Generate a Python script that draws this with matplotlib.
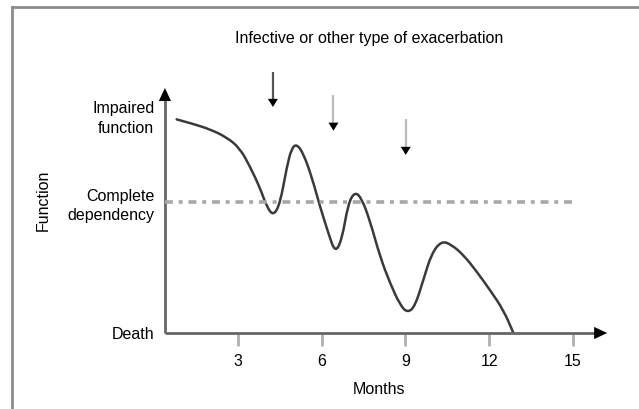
import matplotlib.pyplot as plt
from matplotlib.path import Path
from matplotlib.patches import PathPatch
from matplotlib.lines import Line2D
import numpy as np

plt.rcParams['font.family'] = ['Liberation Sans', 'DejaVu Sans']
plt.rcParams['font.size'] = 11.5

# function course over time (months, function level: death = 0, impaired = 100)
months = [0.80, 1.40, 2.00, 2.59, 3.07, 3.43, 3.79, 4.03, 4.27, 4.51, 4.75, 4.92,
          5.10, 5.34, 5.64, 5.94, 6.24, 6.48, 6.72, 6.95, 7.19, 7.43, 7.73, 8.09,
          8.45, 8.81, 9.07, 9.34, 9.64, 9.94, 10.30, 10.66, 11.08, 11.56, 12.03,
          12.51, 12.87]
function = [98.0, 95.9, 93.4, 89.8, 84.7, 76.3, 66.5, 57.9, 53.7, 59.5, 76.3, 84.7,
            86.7, 82.4, 71.7, 57.9, 45.7, 36.8, 42.7, 59.5, 64.8, 61.8, 51.4, 35.0,
            22.8, 12.8, 9.3, 12.1, 24.3, 36.6, 42.3, 40.4, 35.8, 28.1, 19.7,
            10.6, 0.0]

# exacerbation arrows: month, top, tip
arrow_x = [4.25, 6.42, 9.01]
arrow_top = [119.7, 109.2, 98.0]
arrow_tip = [103.7, 92.8, 81.7]
arrow_shaft_colors = ['#555555', '#bbbbbb', '#bbbbbb']

dependency_level = 60
y_levels = [0, 60, 100]
y_labels = ['Death', 'Complete\ndependency', 'Impaired\nfunction']
x_ticks = [3, 6, 9, 12, 15]

fig = plt.figure(figsize=(6.39, 4.09), dpi=100)
ax = fig.add_axes([0.2415, 0.1858, 0.7205, 0.6663])
ax.set_xlim(0, 16.5)
ax.set_ylim(0, 125)
for s in ax.spines.values():
    s.set_visible(False)

# axis lines with arrow heads
x0 = 0.38
ax.plot([x0, x0], [0, 108], color='#666666', lw=2, clip_on=False, solid_capstyle='butt')
ax.plot([x0, 15.9], [0, 0], color='#666666', lw=2, clip_on=False, solid_capstyle='butt')
head = dict(arrowstyle='-|>,head_length=0.47,head_width=0.22', color='black',
            mutation_scale=20, shrinkA=0, shrinkB=0, lw=0)
ax.annotate('', xy=(x0, 112.4), xytext=(x0, 105), arrowprops=head, annotation_clip=False)
ax.annotate('', xy=(16.23, 0), xytext=(15.7, 0), arrowprops=head, annotation_clip=False)

# complete dependency line
ax.plot([x0, 15.08], [dependency_level, dependency_level], color='#a8a8a8', lw=2.6,
        linestyle=(0, (2.2, 1.6, 1.1, 1.6)), dash_capstyle='butt')

# smooth course of function
pts = np.column_stack([months, function])
verts = [pts[0]]
codes = [Path.MOVETO]
for i in range(1, len(pts) - 1):
    verts += [pts[i], (pts[i] + pts[i + 1]) / 2]
    codes += [Path.CURVE3, Path.CURVE3]
verts.append(pts[-1])
codes.append(Path.LINETO)
ax.add_patch(PathPatch(Path(verts, codes), fill=False, ec='#3a3a3a', lw=1.8,
                       capstyle='round', joinstyle='round'))

# exacerbation arrows
small_head = dict(arrowstyle='-|>,head_length=0.58,head_width=0.36', color='black',
                  mutation_scale=10, shrinkA=0, shrinkB=0, lw=0)
for x, top, tip, c in zip(arrow_x, arrow_top, arrow_tip, arrow_shaft_colors):
    ax.plot([x, x], [top, tip + 2], color=c, lw=1.6, solid_capstyle='butt')
    ax.annotate('', xy=(x, tip), xytext=(x, tip + 3), arrowprops=small_head)

ax.set_xticks(x_ticks)
ax.set_xticklabels([str(t) for t in x_ticks])
ax.tick_params(axis='x', direction='out', length=9, width=2, color='#b0b0b0', pad=6)
ax.set_yticks(y_levels)
ax.set_yticklabels(y_labels, linespacing=1.35)
ax.tick_params(axis='y', length=0, pad=0)

fig.text(369 / 639, 1 - 38 / 409, 'Infective or other type of exacerbation',
         ha='center', va='center')
fig.text(379 / 639, 1 - 390 / 409, 'Months', ha='center', va='center')
fig.text(43 / 639, 1 - 200 / 409, 'Function', ha='center', va='center', rotation=90)

# frame
fig.add_artist(Line2D([12 / 639, 12 / 639], [0, 1 - 7 / 409], transform=fig.transFigure,
                      color='#8c8c8c', lw=2))
fig.add_artist(Line2D([12 / 639, 1], [1 - 7 / 409, 1 - 7 / 409], transform=fig.transFigure,
                      color='#8c8c8c', lw=2))

fig.savefig('out.png', dpi=100)
